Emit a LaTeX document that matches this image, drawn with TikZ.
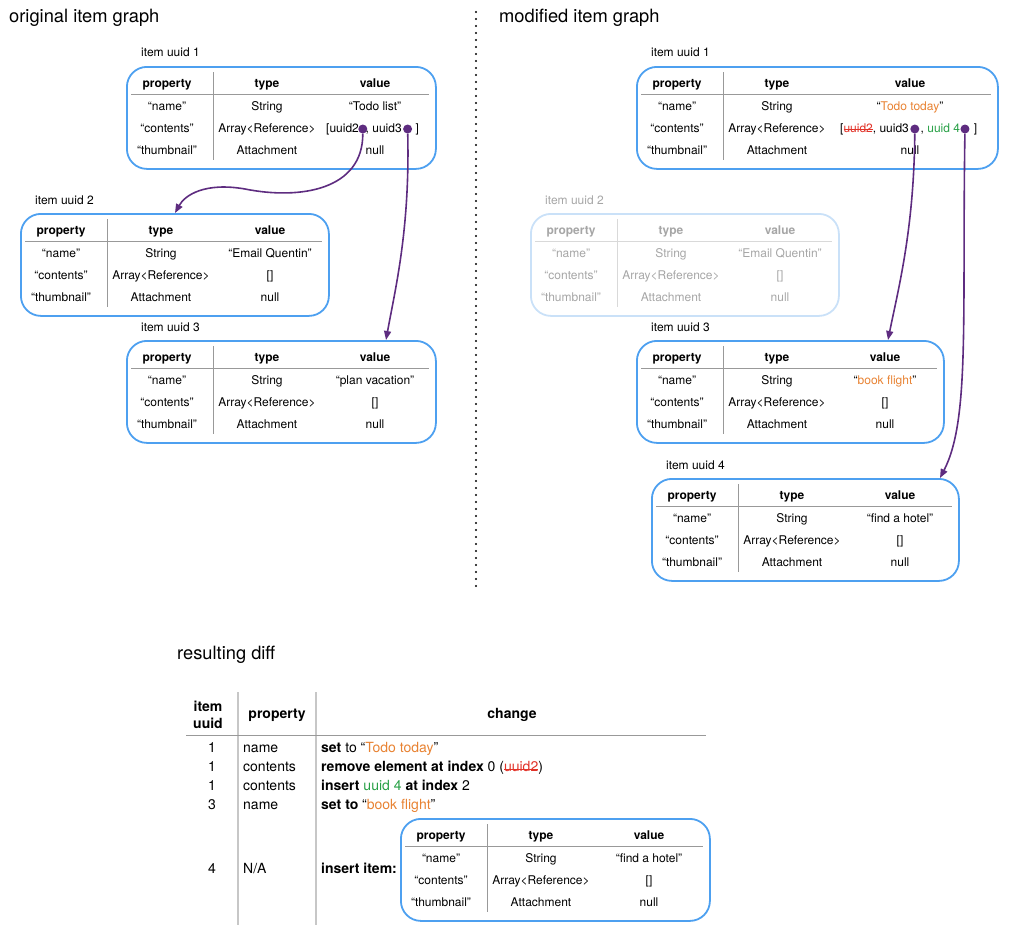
\documentclass[tikz,border=0pt]{standalone}
\usepackage{fontspec}
\setmainfont{TeX Gyre Heros}
\usetikzlibrary{positioning,arrows.meta}

\definecolor{itemblue}{RGB}{77,160,240}
\definecolor{fadeblue}{RGB}{202,225,248}
\definecolor{refpurple}{RGB}{94,44,128}
\definecolor{todo}{RGB}{232,130,50}
\definecolor{addgreen}{RGB}{40,160,70}
\definecolor{delred}{RGB}{225,50,40}

\newcommand\strike[1]{\setbox0=\hbox{#1}\rlap{\rule[0.3ex]{\wd0}{0.7pt}}\box0}

\tikzset{
  box/.style={draw=itemblue, line width=1.8pt, rounded corners=20pt, minimum height=102pt, inner sep=0pt},
  rule/.style={draw=black!40, line width=0.8pt},
  head/.style={font=\bfseries\fontsize{12}{14}\selectfont, text height=8.5pt, text depth=2.5pt, inner sep=0pt},
  cell/.style={font=\fontsize{12}{14}\selectfont, text height=8.5pt, text depth=2.5pt, inner sep=0pt},
  lbl/.style={font=\fontsize{12}{14}\selectfont, anchor=west, inner sep=0pt},
  title/.style={font=\fontsize{18.3}{21}\selectfont, anchor=west, inner sep=0pt},
  faded/.style={box/.append style={draw=fadeblue}, rule/.append style={draw=black!15},
    head/.append style={text=black!35}, cell/.append style={text=black!35}},
  dot/.style={circle, fill=refpurple, inner sep=0pt, minimum size=9pt},
  ref/.style={draw=refpurple, line width=1.6pt, -{Triangle[length=9pt,width=7pt]}},
  sep/.style={line width=2.4pt, dash pattern=on 0pt off 7pt, line cap=round},
  gridv/.style={draw=black!22, line width=1.6pt},
  gridh/.style={draw=black!40, line width=0.8pt},
  dhead/.style={font=\bfseries\fontsize{14}{17}\selectfont, align=center, inner sep=0pt},
  dcell/.style={font=\fontsize{14}{16}\selectfont, text height=10pt, text depth=3pt, inner sep=0pt},
}

% #2 name, #3/#4 top left, #5 width, #6 value column, #7 name value, #8 contents value
\newcommand\itembox[8][]{%
  \begin{scope}[shift={(#3,#4)},#1]
    \node[box, minimum width=#5pt, anchor=north west] (#2) at (0,0) {};
    \draw[rule] (87,6) -- (87,94);
    \draw[rule] (5,28) -- (#5-6,28);
    \node[head] (#2-hp) at (41,18) {property};
    \node[head] (#2-ht) at (141,18) {type};
    \node[head] (#2-hv) at (#6,18) {value};
    \node[cell] (#2-p1) at (41,41) {“name”};
    \node[cell] (#2-t1) at (141,41) {String};
    \node[cell] (#2-v1) at (#6,41) {#7};
    \node[cell] (#2-p2) at (41,63) {“contents”};
    \node[cell] (#2-t2) at (141,63) {Array<Reference>};
    \node[cell] (#2-v2) at (#6,63) {#8};
    \node[cell] (#2-p3) at (41,85) {“thumbnail”};
    \node[cell] (#2-t3) at (141,85) {Attachment};
    \node[cell] (#2-v3) at (#6,85) {null};
  \end{scope}}

\begin{document}
\begin{tikzpicture}[x=1pt,y=-1pt]
  \useasboundingbox (0,0) rectangle (1009,937);

  \node[title] (t1) at (9,18) {original item graph};
  \node[title] (t2) at (499,18) {modified item graph};
  \node[title] (t3) at (177,655) {resulting diff};
  \draw[sep] (476,12) -- (476,592);

  % original
  \node[lbl] (l1) at (141,52) {item uuid 1};
  \itembox{b1l}{126}{66}{309}{249}{“Todo list”}{}
  \node[cell, anchor=west] (c1a) at (326,129) {[uuid2};
  \node[dot, right=-1pt of c1a] (d12) {};
  \node[cell, right=-2pt of d12] (c1b) {, uuid3};
  \node[dot, right=1pt of c1b] (d13) {};
  \node[cell, right=3pt of d13] (c1c) {]};
  \node[lbl] (l2) at (35,200) {item uuid 2};
  \itembox{b2l}{20}{213}{308}{250}{“Email Quentin”}{[]}
  \node[lbl] (l3) at (141,327) {item uuid 3};
  \itembox{b3l}{126}{340}{309}{249}{“plan vacation”}{[]}

  % modified
  \node[lbl] (l5) at (651,52) {item uuid 1};
  \itembox{b1r}{636}{66}{361}{274}{“\textcolor{todo}{Todo today}”}{}
  \node[cell, anchor=west] (c5a) at (840,129) {[\textcolor{delred}{\strike{uuid2}}, uuid3};
  \node[dot, right=1pt of c5a] (d53) {};
  \node[cell, right=1pt of d53] (c5b) {, \textcolor{addgreen}{uuid 4}};
  \node[dot, right=0pt of c5b] (d54) {};
  \node[cell, right=4pt of d54] (c5c) {]};
  \node[lbl, text=black!35] (l6) at (545,200) {item uuid 2};
  \itembox[faded]{b2r}{530}{213}{308}{250}{“Email Quentin”}{[]}
  \node[lbl] (l7) at (651,327) {item uuid 3};
  \itembox{b3r}{636}{340}{307}{249}{“\textcolor{todo}{book flight}”}{[]}
  \node[lbl] (l8) at (666,465) {item uuid 4};
  \itembox{b4r}{651}{478}{307}{249}{“find a hotel”}{[]}

  \draw[ref] (d12) .. controls (363,190) and (300,200) .. (245,189)
    .. controls (205,182) and (185,195) .. ([xshift=155pt]b2l.north west);
  \draw[ref] (d13) .. controls (410,230) and (395,290) .. ([xshift=260pt]b3l.north west);
  \draw[ref] (d53) .. controls (914,230) and (898,290) .. ([xshift=252pt]b3r.north west);
  \draw[ref] (d54) .. controls (962,320) and (970,420) .. ([xshift=289pt]b4r.north west);

  % diff
  \draw[gridv] (238,692) -- (238,925);
  \draw[gridv] (316,692) -- (316,925);
  \draw[gridh] (186,735) -- (706,735);
  \node[dhead] (hu) at (208,715) {item\\uuid};
  \node[dhead] (hp) at (277,715) {property};
  \node[dhead] (hc) at (512,715) {change};

  \node[dcell] (u1) at (212,749) {1};
  \node[dcell, anchor=west] (p1) at (243,749) {name};
  \node[dcell, anchor=west] (c1) at (321,749) {\textbf{set} to “\textcolor{todo}{Todo today}”};
  \node[dcell] (u2) at (212,768) {1};
  \node[dcell, anchor=west] (p2) at (243,768) {contents};
  \node[dcell, anchor=west] (c2) at (321,768) {\textbf{remove element at index} 0 (\textcolor{delred}{\strike{uuid2}})};
  \node[dcell] (u3) at (212,787) {1};
  \node[dcell, anchor=west] (p3) at (243,787) {contents};
  \node[dcell, anchor=west] (c3) at (321,787) {\textbf{insert} \textcolor{addgreen}{uuid 4} \textbf{at index} 2};
  \node[dcell] (u4) at (212,806) {3};
  \node[dcell, anchor=west] (p4) at (243,806) {name};
  \node[dcell, anchor=west] (c4) at (321,806) {\textbf{set to} “\textcolor{todo}{book flight}”};
  \node[dcell] (u5) at (212,870) {4};
  \node[dcell, anchor=west] (p5) at (243,870) {N/A};
  \node[dcell, anchor=west] (c5) at (321,870) {\textbf{insert item:}};
  \itembox{bi}{400}{818}{309}{249}{“find a hotel”}{[]}
\end{tikzpicture}
\end{document}
